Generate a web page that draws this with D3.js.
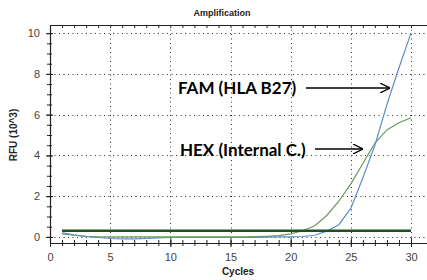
<!DOCTYPE html>
<html>
<head>
<meta charset="utf-8">
<script src="https://cdnjs.cloudflare.com/ajax/libs/d3/7.8.5/d3.min.js"></script>
<style>
body { margin: 0; background: #fff; }
svg { display: block; }
</style>
</head>
<body>
<div id="content"></div>
<script>
var width = 427;
var height = 280;

// cycle numbers and the two amplification curves (RFU x 10^3)
var cycles = [1,2,3,4,5,6,7,8,9,10,11,12,13,14,15,16,17,18,19,20,21,22,23,24,25,26,27,28,29,30];
var famValues = [0.2,0.1,0.02,-0.03,-0.08,-0.1,-0.1,-0.08,-0.05,-0.03,-0.02,-0.02,-0.02,-0.02,-0.02,-0.02,-0.02,-0.01,0,0,0.02,0.08,0.28,0.6,1.4,2.9,4.5,6.5,8.3,10];
var hexValues = [0.15,0.08,0.03,0,0,0,0,0,0,0,0,0,0,0,0,0,0.01,0.03,0.06,0.15,0.3,0.55,1.05,1.75,2.6,3.6,4.6,5.25,5.6,5.85];
var thresholdValue = 0.3;

var xTickLabels = [0,5,10,15,20,25,30];
var yTickLabels = [0,2,4,6,8,10];

var plotLeft = 50, plotRight = 411, plotTop = 25, plotBottom = 243;

var x = d3.scaleLinear().domain([0,30]).range([plotLeft,plotRight]);
var y = d3.scaleLinear().domain([-0.3,10.4]).range([plotBottom,plotTop]);

var svg = d3.select("#content").append("svg")
            .attr("width",width)
            .attr("height",height)
            .style("font-family","Arial, 'Liberation Sans', sans-serif");

svg.append("defs").append("marker")
   .attr("id","arrow")
   .attr("viewBox","0 0 10 10")
   .attr("refX",10).attr("refY",5)
   .attr("markerWidth",10).attr("markerHeight",10)
   .attr("markerUnits","userSpaceOnUse")
   .attr("orient","auto")
   .append("path")
   .attr("d","M0,0 L10,5 L0,10")
   .attr("fill","none")
   .attr("stroke","#000")
   .attr("stroke-width",1.3);

// title
svg.append("text")
   .attr("x",222).attr("y",16)
   .attr("text-anchor","middle")
   .attr("font-size",9)
   .attr("font-weight","bold")
   .attr("fill","#222")
   .text("Amplification");

// dotted grid
var grid = svg.append("g").attr("stroke","#333").attr("stroke-width",1).attr("stroke-dasharray","1,3.5");
grid.selectAll(".gx").data(xTickLabels.filter(function(d){ return d > 0; })).enter().append("line")
    .attr("x1",function(d){ return Math.round(x(d))+0.5; })
    .attr("x2",function(d){ return Math.round(x(d))+0.5; })
    .attr("y1",plotTop).attr("y2",plotBottom);
grid.selectAll(".gy").data(yTickLabels).enter().append("line")
    .attr("y1",function(d){ return Math.round(y(d))+0.5; })
    .attr("y2",function(d){ return Math.round(y(d))+0.5; })
    .attr("x1",plotLeft).attr("x2",width);

// frame: left and top, plus bottom axis
var xAxis = d3.axisBottom(x).tickValues(xTickLabels).tickSize(4).tickPadding(6);
var xMinor = d3.axisBottom(x).ticks(30).tickSize(3).tickFormat("");
var yAxis = d3.axisLeft(y).tickValues(yTickLabels).tickSize(4).tickPadding(6);
var yMinor = d3.axisLeft(y).tickValues(d3.range(0,10.01,0.5)).tickSize(3).tickFormat("");
var topTicks = d3.axisBottom(x).ticks(30).tickSize(3).tickFormat("");

function styleAxis(g) {
  g.select(".domain").remove();
  g.selectAll("line").attr("stroke","#222");
  g.selectAll("text").attr("fill","#444").attr("font-size",11).attr("font-family","Arial, 'Liberation Sans', sans-serif");
}

svg.append("g").attr("transform","translate(0,"+plotBottom+")").call(xMinor).call(styleAxis)
   .selectAll("line").attr("y1",-3);
svg.append("g").attr("transform","translate(0,"+plotBottom+")").call(xAxis).call(styleAxis)
   .selectAll("line").attr("y1",-5);
svg.append("g").attr("transform","translate("+plotLeft+",0)").call(yMinor).call(styleAxis)
   .selectAll("line").attr("x1",2);
svg.append("g").attr("transform","translate("+plotLeft+",0)").call(yAxis).call(styleAxis)
   .selectAll("line").attr("x1",3);
svg.append("g").attr("transform","translate(0,"+plotTop+")").call(topTicks).call(styleAxis);

svg.append("path")
   .attr("d","M"+width+","+(plotTop+0.5)+" H"+(plotLeft+0.5)+" V"+(plotBottom+0.5)+" H"+width)
   .attr("fill","none").attr("stroke","#222").attr("stroke-width",1.2);

// axis titles
svg.append("text")
   .attr("transform","translate(17,135) rotate(-90)")
   .attr("text-anchor","middle")
   .attr("font-size",10)
   .attr("font-weight","bold")
   .attr("fill","#222")
   .text("RFU (10^3)");
svg.append("text")
   .attr("x",238).attr("y",275)
   .attr("text-anchor","middle")
   .attr("font-size",10)
   .attr("font-weight","bold")
   .attr("fill","#222")
   .text("Cycles");

// curves
var line = d3.line()
  .x(function(d){ return x(d[0]); })
  .y(function(d){ return y(d[1]); });

svg.append("path")
   .datum(d3.zip(cycles,hexValues))
   .attr("d",line)
   .attr("fill","none").attr("stroke","#6b9a5e").attr("stroke-width",1.2);
svg.append("path")
   .datum(d3.zip(cycles,famValues))
   .attr("d",line)
   .attr("fill","none").attr("stroke","#5f8fc6").attr("stroke-width",1.2);
svg.append("path")
   .datum([[cycles[0],thresholdValue],[cycles[cycles.length-1],thresholdValue]])
   .attr("d",line)
   .attr("fill","none").attr("stroke","#1f4f22").attr("stroke-width",2.5);

// annotations
svg.append("text")
   .attr("x",178).attr("y",94)
   .attr("font-family","Lato, 'Open Sans', sans-serif")
   .attr("font-size",17).attr("font-weight","bold").attr("fill","#000")
   .text("FAM (HLA B27)");
svg.append("line")
   .attr("x1",306).attr("y1",88).attr("x2",390).attr("y2",88)
   .attr("stroke","#000").attr("stroke-width",1.3).attr("marker-end","url(#arrow)");
svg.append("text")
   .attr("x",180).attr("y",156)
   .attr("font-family","Lato, 'Open Sans', sans-serif")
   .attr("font-size",17).attr("font-weight","bold").attr("fill","#000")
   .text("HEX (Internal C.)");
svg.append("line")
   .attr("x1",315).attr("y1",149).attr("x2",363).attr("y2",149)
   .attr("stroke","#000").attr("stroke-width",1.3).attr("marker-end","url(#arrow)");
</script>
</body>
</html>
